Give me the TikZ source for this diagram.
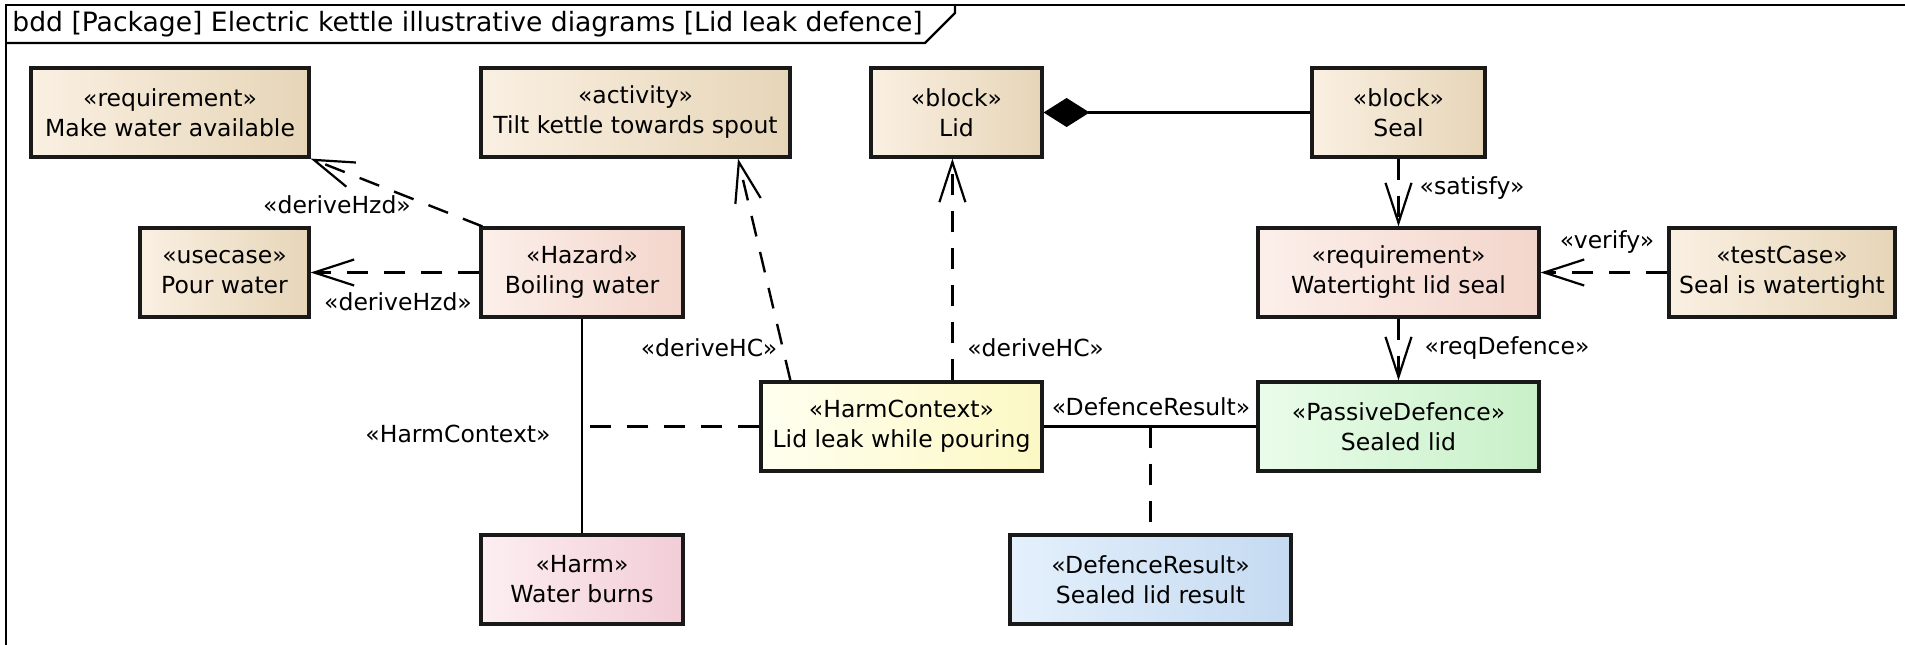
\documentclass[tikz,border=0pt]{standalone}
\usepackage{fontspec}
\setmainfont{DejaVu Sans}
\usetikzlibrary{arrows.meta,calc}
\definecolor{tanL}{HTML}{FAF0E2}\definecolor{tanR}{HTML}{E6D5B8}
\definecolor{hzL}{HTML}{FCEFEA}\definecolor{hzR}{HTML}{F3D5CB}
\definecolor{hmL}{HTML}{FCEEF1}\definecolor{hmR}{HTML}{F2CDD7}
\definecolor{hcL}{HTML}{FFFFF0}\definecolor{hcR}{HTML}{FCF8C4}
\definecolor{pdL}{HTML}{EAFCEA}\definecolor{pdR}{HTML}{C8F0C8}
\definecolor{drL}{HTML}{E4F0FC}\definecolor{drR}{HTML}{C5DAF1}
\tikzset{
  txt/.style={font=\fontsize{11.75}{15}\selectfont, inner sep=0pt},
  box/.style={draw=black!90, line width=1.6pt, align=center, inner sep=0pt,
    font=\fontsize{11.75}{15}\selectfont, minimum height=44.5pt},
  tanbox/.style={box, left color=tanL, right color=tanR},
  hzbox/.style={box, left color=hzL, right color=hzR},
  hmbox/.style={box, left color=hmL, right color=hmR},
  hcbox/.style={box, left color=hcL, right color=hcR},
  pdbox/.style={box, left color=pdL, right color=pdR},
  drbox/.style={box, left color=drL, right color=drR},
  conn/.style={line width=1.1pt, black},
  dep/.style={conn, line width=1.2pt, dash pattern=on 10.5pt off 8pt, -{Straight Barb[length=20pt,width=13pt,line width=1.1pt]}},
  dline/.style={conn, line width=1.2pt, dash pattern=on 10.5pt off 8pt},
}
\begin{document}
\begin{tikzpicture}[x=0.5pt,y=-0.5pt]
\clip (0,0) rectangle (1905,644);
\fill[white] (0,0) rectangle (1905,644);
% frame
\draw[line width=1.3pt] (6,647) -- (6,5) -- (1915,5);
\draw[line width=1.1pt] (6,43) -- (925,43) -- (955,13) -- (955,5);
\node[anchor=west, inner sep=0pt, font=\fontsize{13.3}{16}\selectfont] (title) at (12,24.5) {bdd [Package] Electric kettle illustrative diagrams [Lid leak defence]};
% boxes
\node[tanbox, minimum width=139pt] (req1) at (170,112.5) {«requirement»\\Make water available};
\node[tanbox, minimum width=154.5pt] (act) at (635.5,112.5) {«activity»\\Tilt kettle towards spout};
\node[tanbox, minimum width=85.5pt] (lid) at (956.5,112.5) {«block»\\Lid};
\node[tanbox, minimum width=86.5pt] (seal) at (1398.5,112.5) {«block»\\Seal};
\node[tanbox, minimum width=84.5pt] (pour) at (224.5,272.5) {«usecase»\\Pour water};
\node[hzbox, minimum width=101pt] (hazard) at (582,272.5) {«Hazard»\\Boiling water};
\node[hzbox, minimum width=140.5pt] (req2) at (1398.5,272.5) {«requirement»\\Watertight lid seal};
\node[tanbox, minimum width=113pt] (test) at (1782,272.5) {«testCase»\\Seal is watertight};
\node[hcbox, minimum width=140.5pt] (hc) at (901.5,426.5) {«HarmContext»\\Lid leak while pouring};
\node[pdbox, minimum width=140.5pt] (pd) at (1398.5,426.5) {«PassiveDefence»\\Sealed lid};
\node[hmbox, minimum width=101pt] (harm) at (582,579.5) {«Harm»\\Water burns};
\node[drbox, minimum width=140.5pt] (dr) at (1150.5,579.5) {«DefenceResult»\\Sealed lid result};
% connectors
\draw[dep] ($(hazard.north west)+(3,0)$) -- (req1.south east);
\draw[dep] (hazard.west) -- (pour.east);
\coordinate (hcA) at ($(hc.north west)+(31,0)$);
\coordinate (actB) at ($(act.south)+(102.5,0)$);
\draw[dep] (hcA) -- (actB);
\coordinate (hcB) at ($(hc.north west)+(193,0)$);
\draw[dep] (hcB) -- (hcB |- lid.south);
\draw[conn, -{Diamond[length=23pt,width=14.5pt]}] (seal.west) -- (lid.east);
\draw[dep] (seal.south) -- (req2.north);
\draw[dep] (test.west) -- (req2.east);
\draw[dep] (req2.south) -- (pd.north);
\draw[conn] (hazard.south) -- (harm.north);
\coordinate (hcj) at ($(hc.west -| hazard.south)+(5,0)$);
\draw[dline] (hc.west) -- (hcj);
\draw[conn] (hc.east) -- (pd.west);
\coordinate (drj) at (dr.north |- hc.east);
\draw[dline] (drj) -- (dr.north);
% labels
\node[txt] (l1) at (337,205) {«deriveHzd»};
\node[txt] (l2) at (398,302) {«deriveHzd»};
\node[txt] (l3) at (709,348) {«deriveHC»};
\node[txt] (l4) at (1035.5,348) {«deriveHC»};
\node[txt] (l5) at (458,434) {«HarmContext»};
\node[txt] (l6) at (1151,407) {«DefenceResult»};
\node[txt] (l7) at (1472,188) {«satisfy»};
\node[txt] (l8) at (1607,242) {«verify»};
\node[txt] (l9) at (1507,348) {«reqDefence»};
\end{tikzpicture}
\end{document}
